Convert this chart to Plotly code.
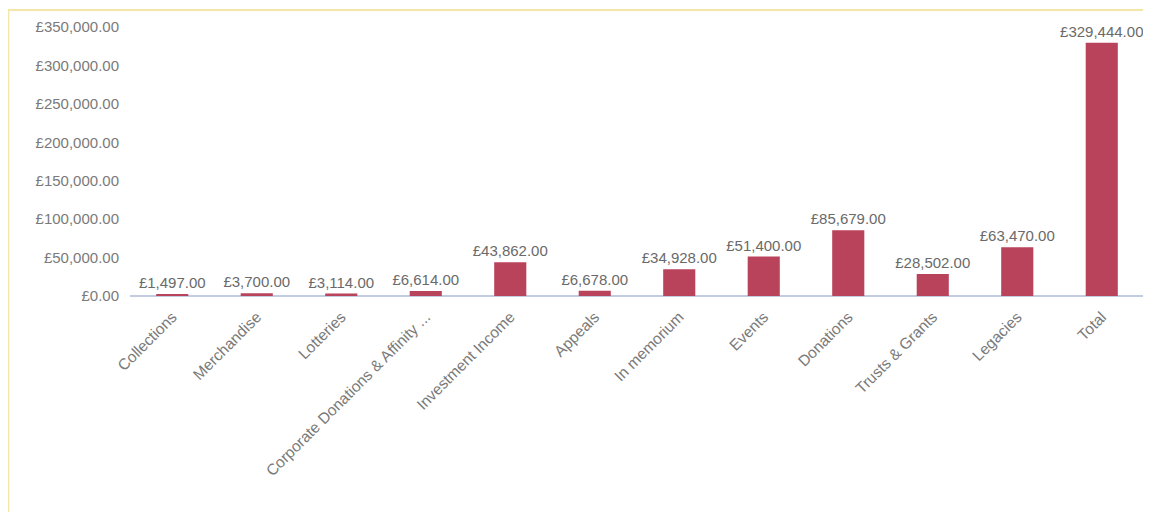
import plotly.graph_objects as go

categories = ["Collections", "Merchandise", "Lotteries", "Corporate Donations & Affinity ...",
              "Investment Income", "Appeals", "In memorium", "Events", "Donations",
              "Trusts & Grants", "Legacies", "Total"]
values = [1497, 3700, 3114, 6614, 43862, 6678, 34928, 51400, 85679, 28502, 63470, 329444]
tick_vals = [0, 50000, 100000, 150000, 200000, 250000, 300000, 350000]
tick_text = ["£%s.00" % format(v, ",") if v else "£0.00" for v in tick_vals]
labels = ["£%s.00" % format(v, ",") for v in values]

FONT = "Liberation Sans, Arial, sans-serif"

fig = go.Figure(go.Bar(
    x=categories, y=values, text=labels, textposition="outside",
    constraintext="none",
    marker=dict(color="#b8435b", line=dict(width=0)),
    textfont=dict(color="#6a6a6a", size=15, family=FONT),
    cliponaxis=False,
))

fig.update_layout(
    width=1136, height=504,
    margin=dict(l=122, r=0, t=19, b=216),
    paper_bgcolor="white", plot_bgcolor="white",
    bargap=0.62,
    showlegend=False,
    font=dict(family=FONT, color="#777777"),
    xaxis=dict(showgrid=False, showline=False, ticks="", tickangle=-45,
               ticklabelstandoff=8,
               tickfont=dict(size=15.5, color="#7a7a7a")),
    yaxis=dict(range=[0, 350000], tickvals=tick_vals, ticktext=tick_text,
               showgrid=False, zeroline=True, zerolinecolor="#c3cbe3", zerolinewidth=2,
               ticks="", ticklabelstandoff=10,
               tickfont=dict(size=15, color="#7a7a7a")),
    shapes=[dict(type="rect", xref="paper", yref="paper", x0=-0.12, x1=1.02, y0=-0.85, y1=1.063,
                 line=dict(color="#f3e6a6", width=2), fillcolor="rgba(0,0,0,0)", layer="below")],
)

fig.write_html("out.html")
